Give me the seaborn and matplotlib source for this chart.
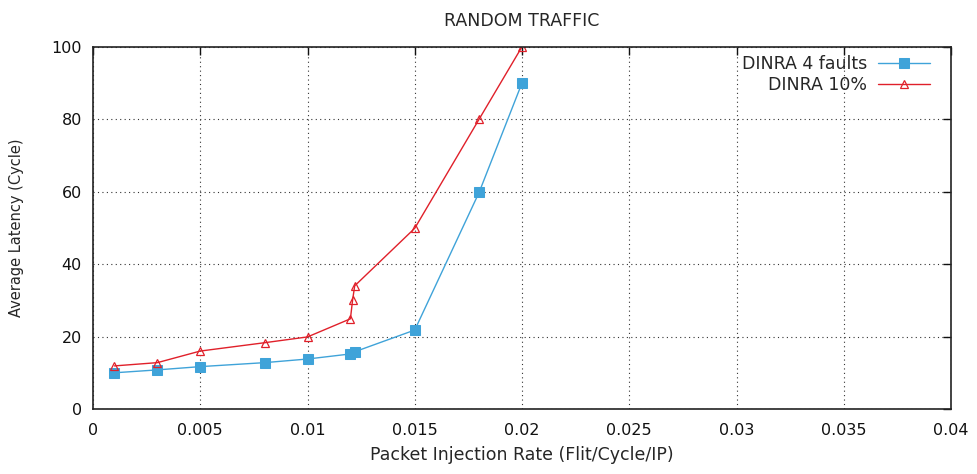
import pandas as pd
import matplotlib
matplotlib.use("Agg")
import matplotlib.pyplot as plt
import seaborn as sns

# values
x_faults = [0.001, 0.003, 0.005, 0.008, 0.010, 0.0120, 0.0122, 0.015, 0.018, 0.020]
y_faults = [10, 10.8, 11.7, 12.8, 13.8, 15.2, 15.8, 21.8, 59.8, 90]
x_pct = [0.001, 0.003, 0.005, 0.008, 0.010, 0.0120, 0.0121, 0.0122, 0.015, 0.018, 0.020]
y_pct = [11.9, 12.8, 16, 18.3, 19.9, 24.9, 30, 34, 49.9, 80, 100]
xticks = [0, 0.005, 0.01, 0.015, 0.02, 0.025, 0.03, 0.035, 0.04]
xtick_labels = ["0", "0.005", "0.01", "0.015", "0.02", "0.025", "0.03", "0.035", "0.04"]
yticks = [0, 20, 40, 60, 80, 100]

df_faults = pd.DataFrame({'rate': x_faults, 'lat': y_faults})
df_pct = pd.DataFrame({'rate': x_pct, 'lat': y_pct})

sns.set_style("white")
plt.rcParams['font.family'] = ['DejaVu Sans']

fig = plt.figure(figsize=(9.77, 4.74), dpi=100)
ax = fig.add_axes([0.0952, 0.1371, 0.8782, 0.7643])

sns.lineplot(data=df_faults, x='rate', y='lat', ax=ax, color='#3fa3d9', lw=1.0,
             marker='s', markersize=6.5, markeredgecolor='#3fa3d9', label='DINRA 4 faults',
             estimator=None, sort=False)
sns.lineplot(data=df_pct, x='rate', y='lat', ax=ax, color='#e0202a', lw=1.0,
             marker='^', markersize=6, markerfacecolor='none', markeredgecolor='#e0202a',
             markeredgewidth=0.9, label='DINRA 10%', estimator=None, sort=False)

ax.set_xlim(0, 0.04)
ax.set_ylim(0, 100)
ax.set_xticks(xticks)
ax.set_xticklabels(xtick_labels)
ax.set_yticks(yticks)
ax.grid(True, color='#333333', linestyle=(0, (1, 3)), linewidth=0.8)
ax.tick_params(direction='in', length=6, width=1, top=True, right=True,
               labelsize=11.5, colors='#111111')
ax.tick_params(axis='x', pad=10)
ax.tick_params(axis='y', pad=8)
for s in ax.spines.values():
    s.set_linewidth(1.2)
    s.set_color('#222222')

ax.set_xlabel('Packet Injection Rate (Flit/Cycle/IP)', fontsize=12.5, labelpad=6)
ax.set_ylabel('Average Latency (Cycle)', fontsize=10.5, labelpad=20)
ax.set_title('RANDOM TRAFFIC', fontsize=12.5, pad=15)

leg = ax.legend(loc='upper right', bbox_to_anchor=(0.9755, 0.977), frameon=False,
                markerfirst=False, fontsize=12.5, handlelength=3.0, handletextpad=0.6,
                borderaxespad=0, borderpad=0, labelspacing=0.15)

fig.savefig('out.png', dpi=100)
